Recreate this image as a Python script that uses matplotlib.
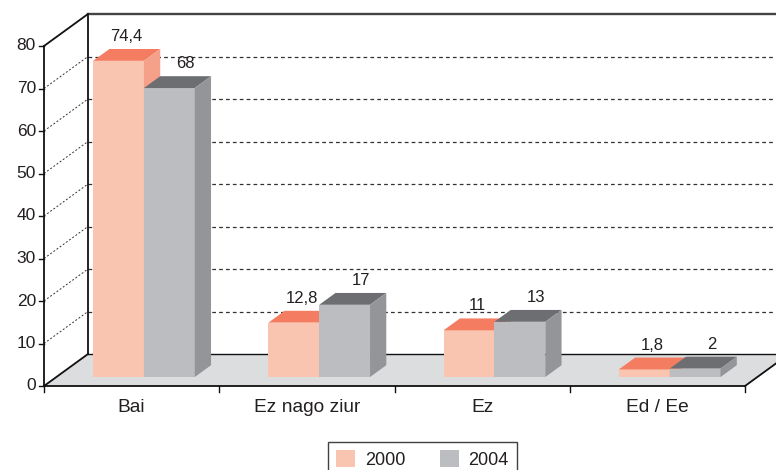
import matplotlib
matplotlib.use("Agg")
import matplotlib.pyplot as plt
from matplotlib.patches import Polygon
import numpy as np

plt.rcParams['font.family'] = ['Liberation Sans', 'DejaVu Sans']

categories = ["Bai", "Ez nago ziur", "Ez", "Ed / Ee"]
series_names = ["2000", "2004"]
values_2000 = [74.4, 12.8, 11, 1.8]
values_2004 = [68, 17, 13, 2]
value_labels_2000 = ["74,4", "12,8", "11", "1,8"]
value_labels_2004 = ["68", "17", "13", "2"]
y_ticks = [0, 10, 20, 30, 40, 50, 60, 70, 80]

# colours: front, top, side
colors = {
    "2000": ("#f9c4b0", "#f47c60", "#f5a088"),
    "2004": ("#bcbdc1", "#6d6e72", "#939598"),
}
floor_color = "#dcdddf"
text_color = "#231f20"

W, H = 776, 470
fig = plt.figure(figsize=(W / 100, H / 100), dpi=100)
ax = fig.add_axes([0, 0, 1, 1])

# scale: pixels per unit
px_cat = 175.25
px_val = 4.25
x_left_px = 44
y0_px = 386
xmin = -0.5 - x_left_px / px_cat
xmax = xmin + W / px_cat
ymax = y0_px / px_val
ymin = ymax - H / px_val
ax.set_xlim(xmin, xmax)
ax.set_ylim(ymin, ymax)
ax.axis("off")

n = len(categories)
ymaxv = y_ticks[-1]
x0, x1 = -0.5, n - 0.5
Dx, Dy = 44 / px_cat, 32 / px_val  # full depth offset

# floor
far = 3
ax.add_patch(Polygon([(x0, 0), (x1, 0), (x1 + Dx, Dy), (x0 + Dx, Dy)],
                     closed=True, facecolor=floor_color, edgecolor="none", zorder=1))
ax.add_patch(Polygon([(x1, 0), (x1 + far * Dx, far * Dy), (xmax + 1, Dy), (x0 + Dx, Dy)],
                     closed=True, facecolor=floor_color, edgecolor="none", zorder=0.9))

lw = 1.3
# back wall frame
ax.plot([x0 + Dx, x0 + Dx], [Dy, ymaxv + Dy], color="#111", lw=lw, zorder=2)
ax.plot([x0 + Dx, xmax + 1], [ymaxv + Dy, ymaxv + Dy], color="#444", lw=lw + 0.4, zorder=2)
ax.plot([x0 + Dx, xmax + 1], [Dy, Dy], color="#111", lw=1.0, zorder=2)
# front axis
ax.plot([x0, x0], [0, ymaxv], color="#111", lw=lw, zorder=2)
ax.plot([x0, x1], [0, 0], color="#111", lw=lw, zorder=2)
ax.plot([x1, x1 + Dx], [0, Dy], color="#111", lw=lw, zorder=2)
ax.plot([x0, x0 + Dx], [0, Dy], color="#111", lw=lw, zorder=2)
ax.plot([x0, x0 + Dx], [ymaxv, ymaxv + Dy], color="#111", lw=lw, zorder=2)

for t in y_ticks[1:-1]:
    ax.plot([x0 + Dx, xmax + 1], [t + Dy, t + Dy], color="#333", lw=0.9,
            ls=(0, (3, 2.5)), zorder=1.5)
    ax.plot([x0, x0 + Dx], [t, t + Dy], color="#333", lw=0.7,
            ls=(0, (2, 2)), zorder=1.5)

tick_len = 5 / px_cat
for t in y_ticks:
    ax.plot([x0 - tick_len, x0], [t, t], color="#111", lw=1.0, zorder=2)
    ax.text(x0 - 8 / px_cat, t, str(t), ha="right", va="center",
            fontsize=12.5, color=text_color)

for i in range(n + 1):
    xt = x0 + i
    ax.plot([xt, xt], [0, -6 / px_val], color="#111", lw=1.0, zorder=2)

for i, c in enumerate(categories):
    ax.text(i, -22 / px_val, c, ha="center", va="center", fontsize=13.8,
            color=text_color)

# bars
f = 0.28      # depth position of bar front face
bd = 0.37     # bar depth fraction
bw = 0.29
bdx, bdy = bd * Dx, bd * Dy
base = f * Dy
xs = np.arange(n) + f * Dx

handles = []
for s, (name, vals, labs) in enumerate(zip(series_names, [values_2000, values_2004],
                                            [value_labels_2000, value_labels_2004])):
    front, top, side = colors[name]
    xl = xs - bw + s * bw
    bars = ax.bar(xl, vals, width=bw, bottom=base, align="edge",
                  color=front, edgecolor="none", zorder=3 + s, label=name)
    handles.append(bars)
    for j, v in enumerate(vals):
        a, b = xl[j], xl[j] + bw
        yt = base + v
        ax.add_patch(Polygon([(a, yt), (b, yt), (b + bdx, yt + bdy), (a + bdx, yt + bdy)],
                             closed=True, facecolor=top, edgecolor="none", zorder=3 + s))
        ax.add_patch(Polygon([(b, base), (b, yt), (b + bdx, yt + bdy), (b + bdx, base + bdy)],
                             closed=True, facecolor=side, edgecolor="none", zorder=3 + s))
        lx = (a + b) / 2 + (bdx * (1.0 if s == 1 else 0.5))
        ax.text(lx, yt + bdy + 5 / px_val, labs[j], ha="center", va="bottom",
                fontsize=12, color=text_color, zorder=10)

leg = fig.legend(handles=handles, labels=series_names, loc="upper center",
                 bbox_to_anchor=(422.5 / W, 1 - 442 / H), ncol=2, frameon=True,
                 fancybox=False, edgecolor="#111", fontsize=13,
                 handlelength=1.05, handleheight=1.05, handletextpad=0.55,
                 columnspacing=1.9, borderpad=0.45, borderaxespad=0)
leg.get_frame().set_linewidth(1.0)
for t in leg.get_texts():
    t.set_color(text_color)

fig.savefig("out.png", dpi=100)
